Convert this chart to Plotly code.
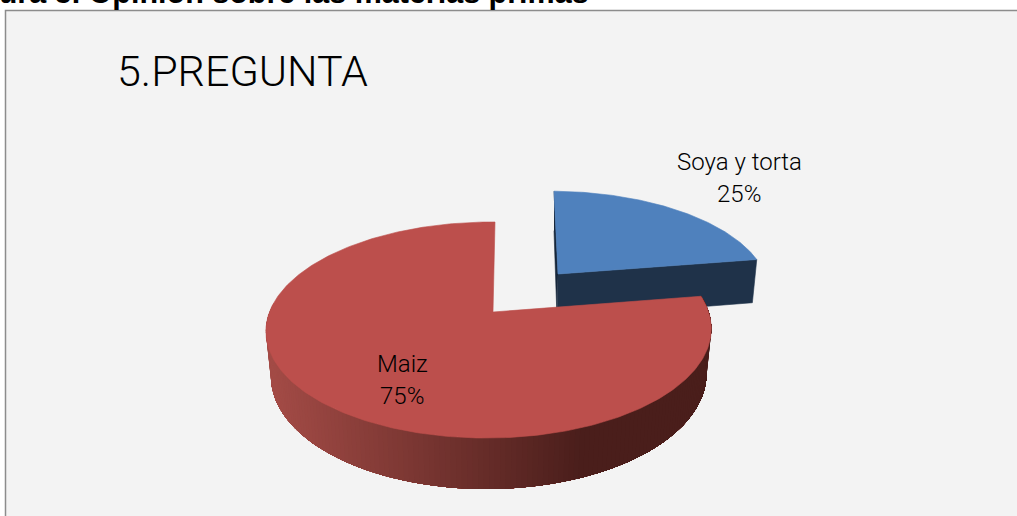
import math
import plotly.graph_objects as go

# ---- data ----
categories = ["Soya y torta", "Maiz"]
percent_labels = [25, 75]          # printed on the chart
drawn_shares = [22.5, 77.5]        # wedge sizes as measured on the picture
chart_title = "5.PREGUNTA"
caption = "Figura 5. Opinión sobre las materias primas"

# ---- look ----
W, H = 1017, 516
TOP_COLORS = ["#4f81bd", "#bc4f4c"]
BLUE_SIDE = "#1f3249"
RED_SIDE_LEFT = (163, 75, 70)
RED_SIDE_RIGHT = (74, 30, 27)
PANEL = "#f3f3f3"
START_ANGLE = 90.0
K, M = 0.1667, 0.018
SX, SY = 219.5, 105
DEPTH = 44
RED_APEX = (493, 312)
BLUE_APEX = (558, 274)
RED_SCALE = (1, 1, 2.0)            # x scale, y scale, lean
BLUE_SCALE = (0.96, 0.92, -4.0)


def project(theta, apex, scale=RED_SCALE, bottom=False):
    X, Y = math.cos(math.radians(theta)), math.sin(math.radians(theta))
    den = 1 + K * Y + M * X
    sx = SX * scale[0] * (0.978 if bottom else 1)
    sy = SY * scale[1] * (1.055 if bottom else 1)
    dy = DEPTH if bottom else 0
    return apex[0] + sx * X / den + scale[2] * Y, apex[1] + dy - sy * Y / den


def arc(a0, a1, apex, scale=RED_SCALE, bottom=False, n=120):
    return [project(a0 + (a1 - a0) * i / n, apex, scale, bottom) for i in range(n + 1)]


def poly(fig, pts, color, edge=0.6):
    fig.add_trace(go.Scatter(
        x=[p[0] for p in pts], y=[p[1] for p in pts],
        mode="lines", fill="toself", fillcolor=color,
        line=dict(color=color, width=edge), hoverinfo="skip", showlegend=False))


fig = go.Figure()

blue_sweep = 360 * drawn_shares[0] / sum(drawn_shares)
blue_a0, blue_a1 = START_ANGLE, START_ANGLE - blue_sweep
red_a0, red_a1 = blue_a1, blue_a1 - 360 * drawn_shares[1] / sum(drawn_shares)

# blue: cut faces, then the top
bs, be = project(blue_a0, BLUE_APEX, BLUE_SCALE), project(blue_a1, BLUE_APEX, BLUE_SCALE)
bsb, beb = project(blue_a0, BLUE_APEX, BLUE_SCALE, True), project(blue_a1, BLUE_APEX, BLUE_SCALE, True)
apex_bottom = (BLUE_APEX[0] - 1, BLUE_APEX[1] + DEPTH)
poly(fig, [bs, BLUE_APEX, apex_bottom, bsb], "#16263a")
poly(fig, [BLUE_APEX, be, beb, apex_bottom], BLUE_SIDE)
poly(fig, [BLUE_APEX] + arc(blue_a0, blue_a1, BLUE_APEX, BLUE_SCALE) + [BLUE_APEX], TOP_COLORS[0])

# red: outer wall, painted left to right; each step repaints the rest of the wall
wall_from, wall_to = -185.0, red_a0
strips = 160
for i in range(strips):
    a = wall_from + (wall_to - wall_from) * i / strips
    span = max(3, (strips - i) // 2)
    top = arc(a, wall_to, RED_APEX, n=span)
    low = arc(wall_to, a, RED_APEX, bottom=True, n=span)
    f = min(1.0, max(0.0, (top[0][0] - 270) / 310))
    c = [round(RED_SIDE_LEFT[j] + (RED_SIDE_RIGHT[j] - RED_SIDE_LEFT[j]) * f) for j in range(3)]
    poly(fig, top + low + [top[0]], f"rgb({c[0]},{c[1]},{c[2]})", edge=0)
poly(fig, [RED_APEX] + arc(red_a0, red_a1, RED_APEX, n=300) + [RED_APEX], TOP_COLORS[1])


def text(s, x, y, size, family="Roboto", anchor="center", weight=300, yanchor="middle"):
    return dict(text=s, x=x, y=y, xref="x", yref="y", showarrow=False,
                xanchor=anchor, yanchor=yanchor, align="center",
                font=dict(family=family, size=size, color="#000000", weight=weight))


annotations = [
    text(chart_title, 242, 71, 43),
    text(categories[0], 739, 162, 24),
    text(f"{percent_labels[0]}%", 739, 194, 24),
    text(categories[1], 402, 364, 24),
    text(f"{percent_labels[1]}%", 402, 396, 24),
    text(caption, 591, 12, 30.5, family="Liberation Sans", anchor="right", weight="bold", yanchor="bottom"),
]

fig.update_layout(
    width=W, height=H, margin=dict(l=0, r=0, t=0, b=0, pad=0),
    paper_bgcolor="#ffffff", plot_bgcolor="#ffffff", showlegend=False,
    xaxis=dict(range=[0, W], visible=False, fixedrange=True),
    yaxis=dict(range=[H, 0], visible=False, fixedrange=True),
    annotations=annotations,
    shapes=[dict(type="rect", xref="x", yref="y", x0=5.5, y0=10.5, x1=W + 20, y1=H + 20,
                 fillcolor=PANEL, line=dict(color="#8c8c8c", width=1.5), layer="below")],
)
fig.write_html("out.html", config={"displayModeBar": False},
               post_script="document.body.style.margin='0';document.body.style.overflow='hidden';")
